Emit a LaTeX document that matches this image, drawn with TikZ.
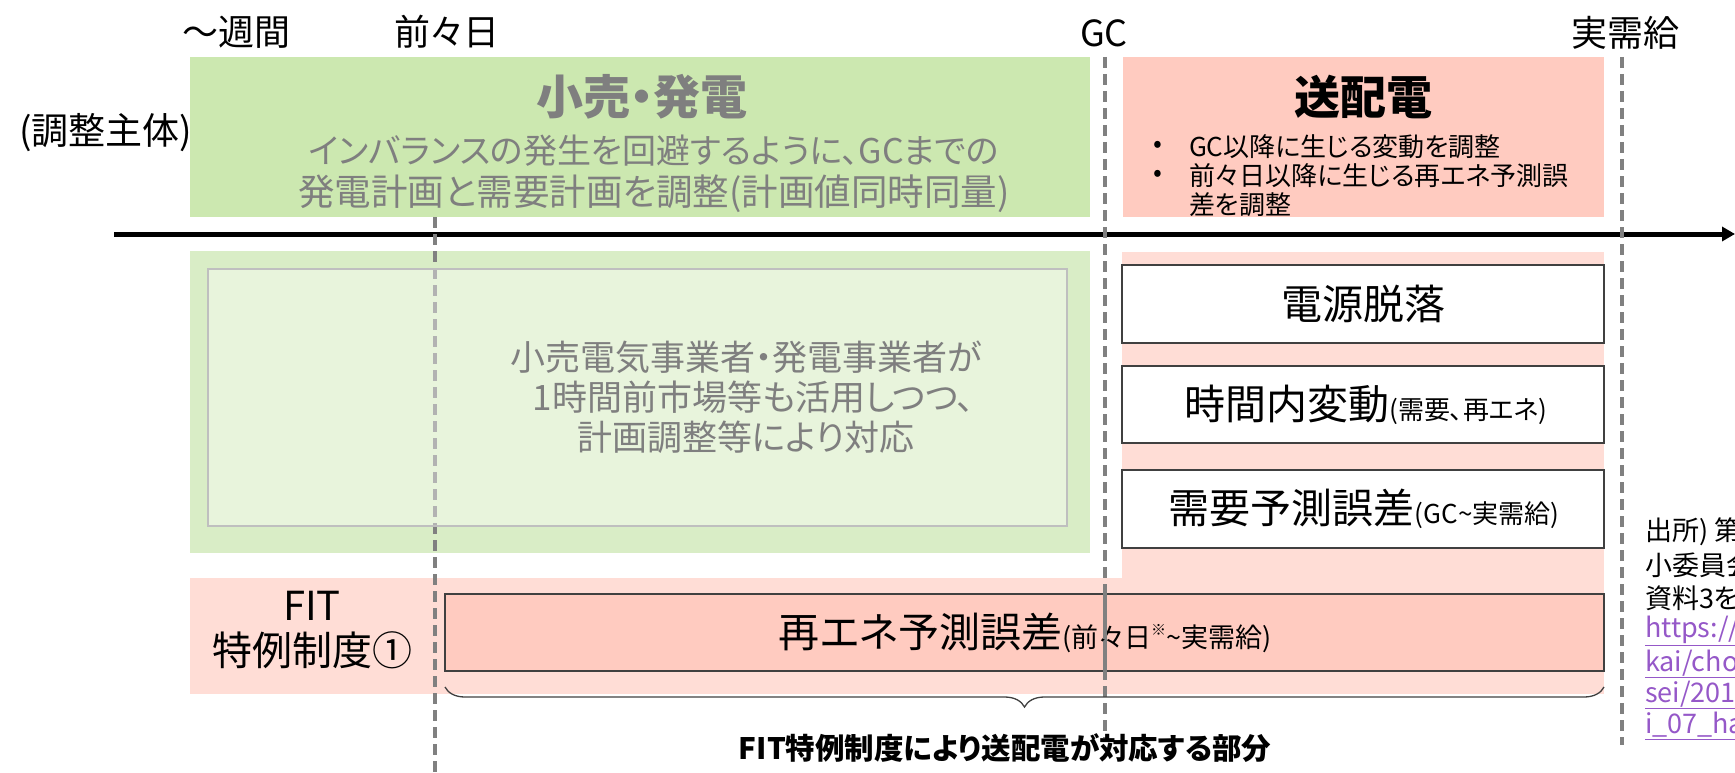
\documentclass[tikz,border=0pt]{standalone}
\usepackage{fontspec}
\setmainfont{Noto Sans CJK JP}[RawFeature={+palt}]
\usetikzlibrary{arrows.meta,decorations.pathreplacing}
\definecolor{gTop}{HTML}{CCE8B0}
\definecolor{gLow}{HTML}{D9EDC6}
\definecolor{rTop}{HTML}{FFCBC0}
\definecolor{pinkL}{HTML}{FFDDD6}
\definecolor{greyTxt}{HTML}{7F7F7F}
\definecolor{guideGrey}{HTML}{808080}
\definecolor{edgeDark}{HTML}{404040}
\definecolor{linkPurple}{HTML}{9558C8}
\begin{document}
\begin{tikzpicture}[x=1pt,y=-1pt]
\tikzset{
  box/.style={anchor=north west, inner sep=0pt, outer sep=0pt},
  txt/.style={inner sep=0pt, outer sep=0pt},
  toplbl/.style={txt, font=\fontsize{36}{40}\selectfont},
  guide/.style={draw=guideGrey, line width=3.5pt, dash pattern=on 11pt off 6pt},
  bigtxt/.style={txt, font=\fontsize{41}{46}\selectfont},
  bultxt/.style={txt, anchor=west, font=\fontsize{26}{30}\selectfont},
  srctxt/.style={txt, anchor=west, font=\fontsize{27}{30}\selectfont},
}
\useasboundingbox (0,0) rectangle (1735,773);
% ---------- background boxes ----------
\node[box, fill=gTop, minimum width=900pt, minimum height=160pt] (gtop) at (190,57) {};
\node[box, fill=rTop, minimum width=481pt, minimum height=160pt] (rtop) at (1123,57) {};
\node[box, fill=gLow, minimum width=900pt, minimum height=302pt] (glow) at (190,251) {};
\node[box, fill=pinkL, minimum width=482pt, minimum height=442pt] (pcol) at (1122,252) {};
\node[box, fill=pinkL, minimum width=1414pt, minimum height=116pt] (prow) at (190,578) {};
\node[box, fill=white, draw=edgeDark, line width=1.5pt, minimum width=482pt, minimum height=78pt] (wb1) at (1122,265) {};
\node[box, fill=white, draw=edgeDark, line width=1.5pt, minimum width=482pt, minimum height=77pt] (wb2) at (1122,366) {};
\node[box, fill=white, draw=edgeDark, line width=1.5pt, minimum width=482pt, minimum height=78pt] (wb3) at (1122,470) {};
\node[box, fill=rTop, draw=edgeDark, line width=1.5pt, minimum width=1159pt, minimum height=77pt] (rrow) at (445,594) {};
% ---------- axis ----------
\coordinate (axL) at (114,234);
\coordinate (axR) at (1735,234);
\draw[line width=5pt, -{Triangle[length=13pt,width=14pt]}] (axL) -- (axR);
% ---------- guide lines ----------
\coordinate (d1t) at (435,217);
\coordinate (d1b) at (435,773);
\coordinate (d2t) at (1105,57);
\coordinate (d2b) at (1105,738);
\coordinate (d3t) at (1622,57);
\coordinate (d3b) at (1622,745);
\draw[guide] (d1t) -- (d1b);
\draw[guide] (d2t) -- (d2b);
\draw[guide] (d3t) -- (d3b);
% inner light box (over the guide line)
\node[box, fill=white, fill opacity=0.4, draw=black!25, line width=1.5pt, minimum width=859pt, minimum height=257pt] (ginner) at (208,269) {};
% ---------- top labels ----------
\node[toplbl] (lweek) at (236,32) {～週間};
\node[toplbl] (lday) at (447,32) {前々日};
\node[toplbl] (lgc) at (1104,33) {GC};
\node[toplbl] (lreal) at (1625,33) {実需給};
\node[txt, font=\fontsize{37}{40}\selectfont] (lsubj) at (106,133) {(調整主体)};
% ---------- top green ----------
\node[txt, text=greyTxt, font=\bfseries\fontsize{47}{52}\selectfont] (gtitle) at (642,97) {小売・発電};
\node[txt, text=greyTxt, font=\fontsize{34}{40}\selectfont] (gsub1) at (654,151) {インバランスの発生を回避するように、GCまでの};
\node[txt, text=greyTxt, font=\fontsize{36.5}{40}\selectfont] (gsub2) at (654,194) {発電計画と需要計画を調整(計画値同時同量)};
% ---------- top red ----------
\node[txt, font=\bfseries\fontsize{46}{50}\selectfont] (rtitle) at (1363,97) {送配電};
\node[bultxt] (b1) at (1153,147) {•};
\node[bultxt] (b2) at (1153,176) {•};
\node[bultxt] (t1) at (1189,147) {GC以降に生じる変動を調整};
\node[bultxt] (t2) at (1189,176) {前々日以降に生じる再エネ予測誤};
\node[bultxt] (t3) at (1189,205) {差を調整};
% ---------- lower green text ----------
\node[txt, text=greyTxt, font=\fontsize{35}{40}\selectfont, align=center] (gtext) at (746,397)
  {小売電気事業者・発電事業者が\\[0pt]\ \ 1時間前市場等も活用しつつ、\\[0pt]計画調整等により対応};
% ---------- right column ----------
\node[bigtxt] (tx1) at (1363,304) {電源脱落};
\node[bigtxt] (tx2) at (1366,405) {時間内変動{\fontsize{26}{30}\selectfont(需要、再エネ)}};
\node[bigtxt] (tx3) at (1364,509) {需要予測誤差{\fontsize{26}{30}\selectfont(GC\textasciitilde 実需給)}};
% ---------- FIT row ----------
\node[txt, align=center, font=\fontsize{40}{45}\selectfont] (fit) at (312,630) {FIT\\特例制度①};
\node[bigtxt] (tx4) at (1025,633) {再エネ予測誤差{\fontsize{27}{30}\selectfont(前々日\raisebox{0.45em}{\fontsize{15}{16}\selectfont ※}\textasciitilde 実需給)}};
\draw[guide] (1105,594) -- (1105,671);
% ---------- brace ----------
\coordinate (brL) at (445,687);
\coordinate (brR) at (1604,687);
\draw[draw=edgeDark, line width=1.3pt, decorate, decoration={brace, mirror, amplitude=20pt}] (brL) -- (brR);
\node[txt, font=\bfseries\fontsize{29.5}{32}\selectfont] (brtxt) at (1005,748) {FIT特例制度により送配電が対応する部分};
% ---------- source ----------
\begin{scope}
\clip (0,0) rectangle (1735,773);
\node[srctxt] (s1) at (1645,532) {出所) 第};
\node[srctxt] (s2) at (1645,565) {小委員会};
\node[srctxt] (s3) at (1645,598) {資料3を};
\node[srctxt, text=linkPurple] (s4) at (1645,631) {\underline{https://}};
\node[srctxt, text=linkPurple] (s5) at (1645,664) {\underline{kai/cho}};
\node[srctxt, text=linkPurple] (s6) at (1645,695) {\underline{sei/201}};
\node[srctxt, text=linkPurple] (s7) at (1645,726) {\underline{i\_07\_ha}};
\end{scope}
\end{tikzpicture}
\end{document}
